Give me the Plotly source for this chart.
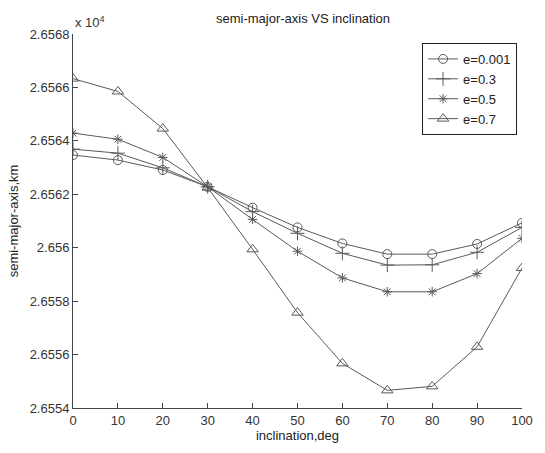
import plotly.graph_objects as go

inclination = [0, 10, 20, 30, 40, 50, 60, 70, 80, 90, 100]
a_e0001 = [26563.47, 26563.28, 26562.91, 26562.28, 26561.50, 26560.76, 26560.16, 26559.76, 26559.76, 26560.14, 26560.93]
a_e03 = [26563.69, 26563.54, 26562.99, 26562.28, 26561.35, 26560.54, 26559.79, 26559.35, 26559.36, 26559.83, 26560.76]
a_e05 = [26564.29, 26564.06, 26563.38, 26562.28, 26561.06, 26559.87, 26558.87, 26558.35, 26558.35, 26559.03, 26560.35]
a_e07 = [26566.33, 26565.85, 26564.46, 26562.25, 26559.94, 26557.57, 26555.67, 26554.66, 26554.81, 26556.29, 26559.24]

series_names = ["e=0.001", "e=0.3", "e=0.5", "e=0.7"]
y_tickvals = [26554, 26556, 26558, 26560, 26562, 26564, 26566, 26568]
y_ticktext = ["2.6554", "2.6556", "2.6558", "2.656", "2.6562", "2.6564", "2.6566", "2.6568"]
x_tickvals = [0, 10, 20, 30, 40, 50, 60, 70, 80, 90, 100]

LINE = "#5a5a5a"
FONT = "Liberation Sans, Arial, sans-serif"
symbols = ["circle-open", "cross-thin-open", "asterisk-open", "triangle-up-open"]
sizes = [9, 10, 8, 10]
series = [a_e0001, a_e03, a_e05, a_e07]

L, R, T, B = 73, 12, 34, 42

fig = go.Figure()
for name, ys, sym, sz in zip(series_names, series, symbols, sizes):
    fig.add_trace(go.Scatter(
        x=inclination, y=ys, name=name, mode="lines+markers",
        line=dict(color=LINE, width=1),
        marker=dict(symbol=sym, size=sz, color=LINE, line=dict(color=LINE, width=1)),
    ))

axis_common = dict(
    showline=True, linecolor="#444", linewidth=1, mirror=False,
    ticks="inside", ticklen=5, tickcolor="#444", showgrid=False, zeroline=False,
    tickfont=dict(family=FONT, size=13, color="#333"),
)

fig.update_layout(
    width=545, height=453,
    margin=dict(l=L, r=R, t=T, b=B),
    paper_bgcolor="white", plot_bgcolor="white",
    font=dict(family=FONT, size=13, color="#333"),
    title=dict(text="semi-major-axis VS inclination", x=(L + 545 - R) / 2 / 545, xanchor="center",
               y=1 - 18 / 453, yanchor="middle", font=dict(family=FONT, size=13, color="#222")),
    xaxis=dict(range=[0, 100], tickvals=x_tickvals,
               title=dict(text="inclination,deg", font=dict(family=FONT, size=13, color="#222"), standoff=4),
               **axis_common),
    yaxis=dict(range=[26554, 26568], tickvals=y_tickvals, ticktext=y_ticktext,
               title=dict(text="semi-major-axis,km", font=dict(family=FONT, size=13, color="#222"), standoff=8),
               **axis_common),
    legend=dict(x=0.989, y=0.976, xanchor="right", yanchor="top",
                bgcolor="white", bordercolor="#222", borderwidth=1,
                font=dict(family=FONT, size=13, color="#222"),
                tracegroupgap=0, itemwidth=30),
    showlegend=True,
    annotations=[dict(text="x 10<sup>4</sup>", xref="paper", yref="paper", x=0, y=1,
                      xanchor="left", yanchor="bottom", showarrow=False, yshift=2,
                      font=dict(family=FONT, size=13, color="#333"))],
)

fig.write_html("out.html", config={"displayModeBar": False},
               post_script="document.body.style.margin='0';document.body.style.overflow='hidden';")
